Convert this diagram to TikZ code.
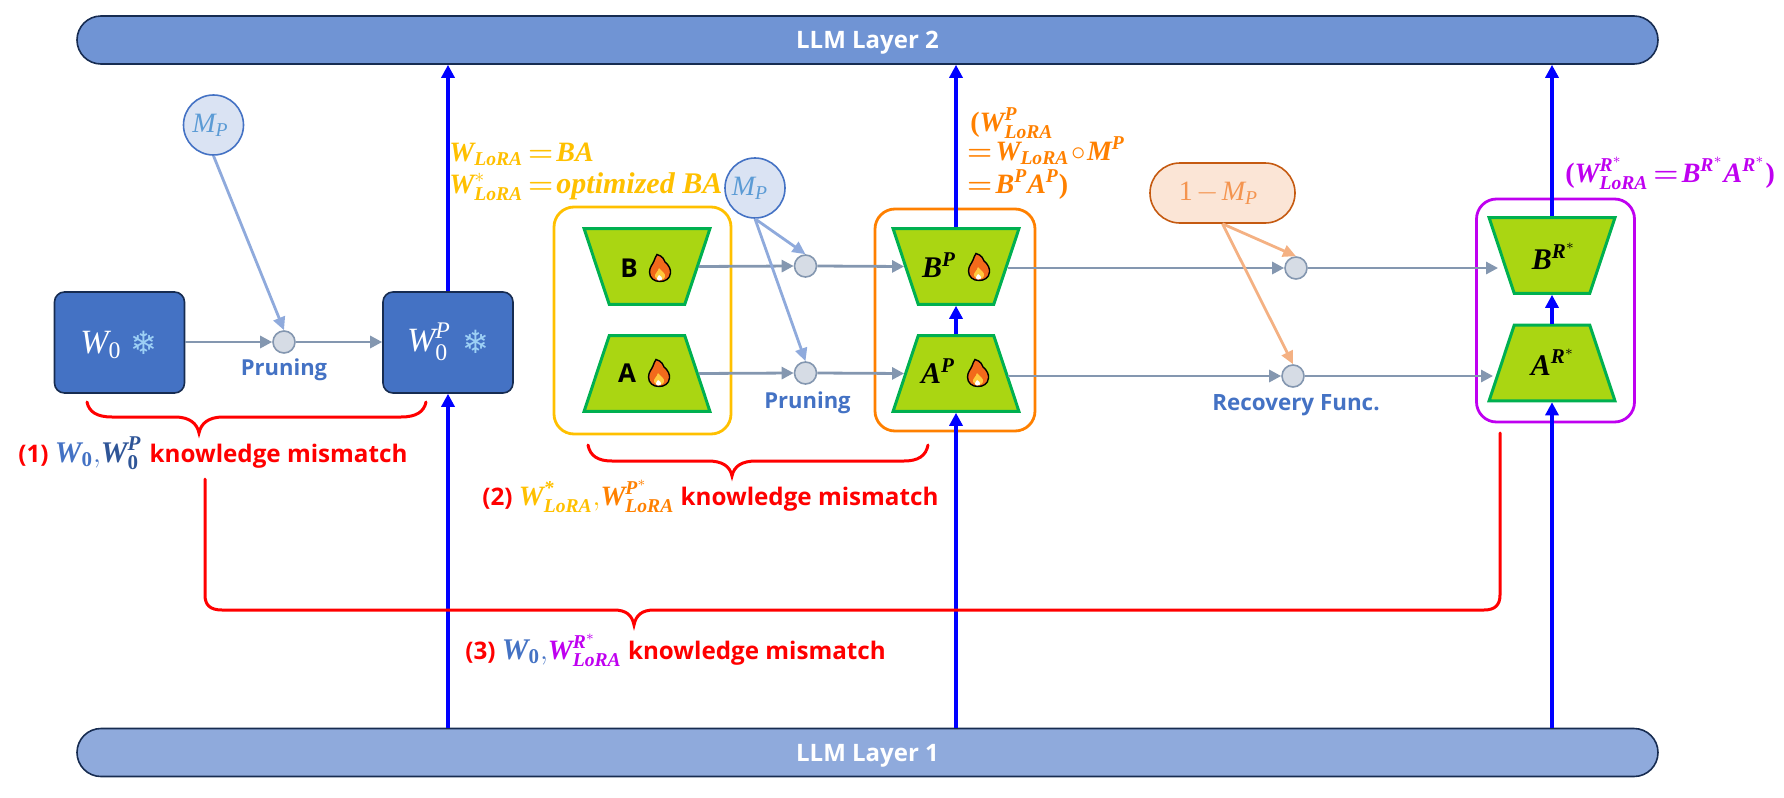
\documentclass[tikz,border=0pt]{standalone}
\usepackage{amsmath,bm}
\usepackage[no-math]{fontspec}
\setmainfont{Open Sans}
\newfontfamily\symf{DejaVu Sans}
\newfontfamily\mf{Liberation Serif}
\usetikzlibrary{arrows.meta,shapes.geometric}
\definecolor{cbox}{HTML}{4472C4}
\definecolor{cdark}{HTML}{172C51}
\definecolor{clay2}{HTML}{7094D4}
\definecolor{clay1}{HTML}{8FAADC}
\definecolor{cgrey}{HTML}{8497B0}
\definecolor{cdot}{HTML}{D6DCE5}
\definecolor{cmask}{HTML}{DAE3F3}
\definecolor{cmtxt}{HTML}{5B9BD5}
\definecolor{cyel}{HTML}{FFC000}
\definecolor{corg}{HTML}{FF8000}
\definecolor{cpur}{HTML}{BF00F0}
\definecolor{cgreen}{HTML}{00B050}
\definecolor{clime}{HTML}{AAD612}
\definecolor{cpeach}{HTML}{FBE5D6}
\definecolor{cpeachl}{HTML}{C55A11}
\definecolor{cpeacht}{HTML}{F4944F}
\definecolor{cpeacha}{HTML}{F4B183}
\definecolor{cblueb}{HTML}{2F5597}
\definecolor{cflake}{HTML}{9DD0F5}
\definecolor{cflame}{HTML}{F26A1B}
\definecolor{cflamey}{HTML}{FFC83D}
\newcommand{\fs}[1]{\fontsize{#1}{#1}\selectfont}
\newcommand{\bi}[1]{\text{\mf\bfseries\itshape #1}}
\newcommand{\ri}[1]{\text{\mf\itshape #1}}
\newcommand{\ru}[1]{\text{\mf #1}}
\newcommand{\bu}[1]{\text{\mf\bfseries #1}}
\newcommand{\WL}{\bi{W}_{\bi{LoRA}}}
\newcommand{\beq}{\mkern-2mu\bm{=}\mkern-3mu}
\tikzset{
  layerbar/.style={draw=cdark,line width=.8pt,rounded corners=12pt,minimum width=790.5pt,minimum height=24pt,inner sep=0pt,text=white,text depth=0pt,font=\fs{12}\bfseries},
  wbox/.style={draw=cdark,fill=cbox,line width=.8pt,rounded corners=5pt,minimum width=65pt,minimum height=50.5pt,inner sep=0pt},
  mask/.style={circle,draw=cbox,fill=cmask,line width=.8pt,minimum size=30pt,inner sep=0pt,text=cmtxt},
  dot/.style={circle,draw=cgrey,fill=cdot,line width=.8pt,minimum size=11pt,inner sep=0pt},
  trap/.style={trapezium,trapezium angle=71.6,draw=cgreen,fill=clime,line width=1.5pt,minimum width=63pt,minimum height=37.5pt,inner sep=1pt},
  trapdown/.style={trap,shape border rotate=180},
  group/.style={rounded corners=10pt,line width=1.4pt,minimum width=#1,inner sep=0pt},
  greyarr/.style={draw=cgrey,line width=1.4pt,-{Triangle[length=6pt,width=6pt]}},
  maskarr/.style={draw=clay1,line width=1.4pt,-{Triangle[length=6.5pt,width=6pt]}},
  peacharr/.style={draw=cpeacha,line width=1.4pt,-{Triangle[length=6.5pt,width=6pt]}},
  bluearr/.style={draw=blue,line width=1.6pt,-{Triangle[length=6.5pt,width=6.5pt]}},
  redbrace/.style={draw=red,line width=1.5pt,line cap=round},
  lab/.style={inner sep=0pt,anchor=base west},
  sublab/.style={inner sep=0pt,text=cbox,font=\fs{11}\bfseries},
  mismatch/.style={lab,text=red,font=\fs{12.1}\bfseries},
  flake/.style={inner sep=0pt,text=cflake,font=\symf\fs{16}},
  pics/fire/.style={code={
    \path[fill=cflame,draw=black,line width=.7pt] (-3,-13.5) .. controls (3,-12) and (4,-8) .. (5,-6) .. controls (9,-3) and (11,2) .. (10.5,5) .. controls (10,11) and (5,13.5) .. (0,13.5) .. controls (-6,13.5) and (-10.5,10) .. (-10.5,4) .. controls (-10.5,-1) and (-7,-4) .. (-6,-7) .. controls (-5,-10) and (-4,-12) .. (-3,-13.5) -- cycle;
    \path[fill=cflamey] (-1,0) .. controls (1,3) and (6,5) .. (5,9) .. controls (4,12.5) and (-3,13) .. (-5,9) .. controls (-6,6) and (-2,4) .. (-1,0) -- cycle;
    \path[fill=white] (-1,7) .. controls (1,8) and (3,10) .. (2,11.5) .. controls (1,13) and (-3,13) .. (-3,10.5) .. controls (-3,9) and (-1.5,8.5) .. (-1,7) -- cycle;
  }}
}
\begin{document}
\begin{tikzpicture}[x=.5pt,y=-.5pt]
\useasboundingbox (0,0) rectangle (1784,798);
% layers
\node[layerbar,fill=clay2] (L2) at (867.5,40) {LLM Layer 2};
\node[layerbar,fill=clay1] (L1) at (867.5,752.5) {LLM Layer 1};
% W boxes
\node[wbox] (W0) at (119.5,342.5) {};
\node[wbox] (WP) at (448,342.5) {};
\node[inner sep=0pt,text=white,font=\fs{17}] (W0t) at (101,345) {$\ri{W}_{\ru{0}}$};
\node[flake] (W0s) at (144,343) {❄};
\node[inner sep=0pt,text=white,font=\fs{17}] (WPt) at (429,342) {$\ri{W}_{\ru{0}}^{\ri{P}}$};
\node[flake] (WPs) at (476,342) {❄};
% first pruning
\node[mask,font=\fs{14}] (M1) at (213.5,125) {$\ri{M}_{\ri{P}}$\kern3pt};
\node[dot] (D1) at (284,342) {};
\node[sublab] (Pr1) at (284,370) {Pruning};
% LoRA groups
\node[group=88.5pt,draw=cyel,minimum height=113.5pt] (GY) at (642.5,320.5) {};
\node[group=80pt,draw=corg,minimum height=111pt] (GO) at (955,320) {};
\node[group=79pt,draw=cpur,minimum height=111.5pt] (GR) at (1555.5,310.5) {};
\node[trapdown] (B) at (647,266.5) {};
\node[trap] (A) at (647,373.5) {};
\node[trapdown] (BP) at (956,266.5) {};
\node[trap] (AP) at (956,373.5) {};
\node[trapdown] (BR) at (1552,255.5) {};
\node[trap] (AR) at (1552,363) {};
\node[inner sep=0pt,font=\fs{13}\bfseries] (Bt) at (629,268) {B};
\node[inner sep=0pt,font=\fs{13}\bfseries] (At) at (627,373) {A};
\node[inner sep=0pt,font=\fs{15}] (BPt) at (939,265) {$\bi{B}^{\bi{P}}$};
\node[inner sep=0pt,font=\fs{15}] (APt) at (938,371) {$\bi{A}^{\bi{P}}$};
\node[inner sep=0pt,font=\fs{15}] (BRt) at (1554,256) {$\bi{B}^{\bi{R}^{*}}$};
\node[inner sep=0pt,font=\fs{15}] (ARt) at (1553,362) {$\bi{A}^{\bi{R}^{*}}$};
\pic at (660,268) {fire};
\pic at (659,373) {fire};
\pic at (979,267) {fire};
\pic at (978,373) {fire};
% second pruning
\node[mask,font=\fs{14}] (M2) at (755,188) {$\ri{M}_{\ri{P}}$\kern5pt};
\node[dot] (D2) at (805.5,266) {};
\node[dot] (D3) at (805.5,373) {};
\node[sublab] (Pr2) at (807.5,403) {Pruning};
% recovery
\node[draw=cpeachl,fill=cpeach,line width=.8pt,rounded corners=15pt,minimum width=72.5pt,minimum height=30pt,inner sep=0pt,text=cpeacht,font=\fs{14}] (RM) at (1222.5,193) {$\ru{1}\mkern-2mu-\mkern-2mu\ri{M}_{\ri{P}}$\kern4pt};
\node[dot] (D4) at (1296,268) {};
\node[dot] (D5) at (1293,376) {};
\node[sublab,font=\fs{11.2}\bfseries] (Rec) at (1296,405) {Recovery Func.};
\coordinate[xshift=-3.5pt] (ARin) at (D5.east -| AR.west);
\coordinate[xshift=-1pt] (BRin) at (D4.east -| BR.west);
% blue arrows
\draw[bluearr] (L1.north -| WP.south) -- (WP.south);
\draw[bluearr] (WP.north) -- (L2.south -| WP.north);
\draw[bluearr] (L1.north -| AP.south) -- (AP.south);
\draw[bluearr] (AP.north) -- (BP.south);
\draw[bluearr] (BP.north) -- (L2.south -| BP.north);
\draw[bluearr] (L1.north -| AR.south) -- (AR.south);
\draw[bluearr] (AR.north) -- (BR.south);
\draw[bluearr] (BR.north) -- (L2.south -| BR.north);
% grey arrows
\draw[greyarr] (W0.east |- D1) -- (D1.west);
\draw[greyarr] (D1.east) -- (WP.west |- D1);
\draw[greyarr] (B.east) -- (D2.west);
\draw[greyarr] (D2.east) -- (BP.west);
\draw[greyarr] (A.east) -- (D3.west);
\draw[greyarr] (D3.east) -- (AP.west);
\draw[greyarr] (D4.west -| BP.east) -- (D4.west);
\draw[greyarr] (D4.east) -- (BRin);
\draw[greyarr] (D5.west -| AP.east) -- (D5.west);
\draw[greyarr] (D5.east) -- (ARin);
% mask arrows
\draw[maskarr] (M1.south) -- (D1.north);
\draw[maskarr] (M2.south) -- (D2.north);
\draw[maskarr] (M2.south) -- (D3.north);
\draw[peacharr] (RM.south) -- (D4.north);
\draw[peacharr] (RM.south) -- (D5.north);
% braces
\draw[redbrace] (87,402) .. controls (89,412) and (97,417) .. (112,417) -- (175,417) .. controls (189,417) and (197,423) .. (199,433) .. controls (201,423) and (209,417) .. (223,417) -- (401,417) .. controls (416,417) and (424,412) .. (426,402);
\draw[redbrace] (588,445) .. controls (590,456) and (598,461) .. (612,461) -- (708,461) .. controls (722,461) and (730,466) .. (732,476) .. controls (734,466) and (742,461) .. (756,461) -- (904,461) .. controls (918,461) and (926,456) .. (928,445);
\draw[redbrace] (205,479) -- (205,595) .. controls (205,605) and (210,610) .. (222,610) -- (614,610) .. controls (626,610) and (632,615) .. (634,625) .. controls (636,615) and (642,610) .. (654,610) -- (1484,610) .. controls (1495,610) and (1500,605) .. (1500,595) -- (1500,433);
% mismatch labels
\node[mismatch] (T1) at (18,462) {(1) {\fs{15}$\color{cbox}\bi{W}_{\bu{0}}{,}\color{cblueb}\bi{W}_{\bu{0}}^{\bi{P}}$}\kern1pt\ knowledge mismatch};
\node[mismatch] (T2) at (482,505) {(2) {\fs{14}$\color{cyel}\WL^{\bi{*}}{,}\color{corg}\WL^{\bi{P}^{*}}$} knowledge mismatch};
\node[mismatch] (T3) at (465,659) {(3) {\fs{15}$\color{cbox}\bi{W}_{\bu{0}}{,}$}{\fs{14}$\color{cpur}\WL^{\bi{R}^{*}}$} knowledge mismatch};
% formulas
\node[lab,text=cyel,font=\fs{14}] (F1) at (449,161) {$\WL\beq\bi{BA}$};
\node[lab,text=cyel,font=\fs{14}] (F2) at (449,193) {$\WL^{*}\beq\text{\mf\bfseries\itshape\fs{15}optimized BA}$};
\node[lab,text=corg,font=\fs{14}] (F3) at (970,131) {$\bu{(}\WL^{\bi{P}}$};
\node[lab,text=corg,font=\fs{14}] (F4) at (970,160) {$\beq\WL\mkern-3mu\circ\mkern-3mu\bi{M}^{\bi{P}}$};
\node[lab,text=corg,font=\fs{14}] (F5) at (970,193) {$\beq\bi{B}^{\bi{P}}\bi{A}^{\bi{P}}\bu{)}$};
\node[lab,text=cpur,font=\fs{14}] (F6) at (1565,182) {$\bu{(}\WL^{\bi{R}^{*}}\beq\bi{B}^{\bi{R}^{*}}\bi{A}^{\bi{R}^{*}}\bu{)}$};
\end{tikzpicture}
\end{document}
